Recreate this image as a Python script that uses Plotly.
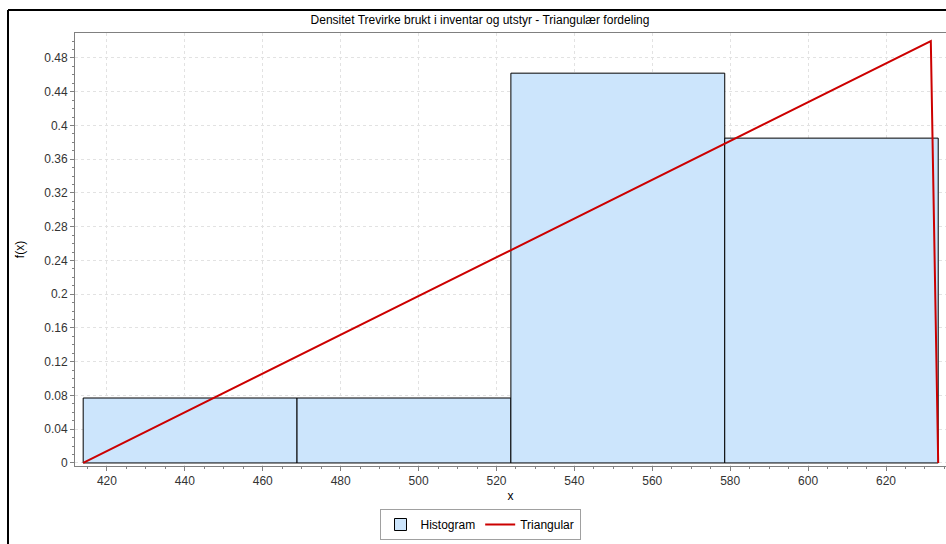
import plotly.graph_objects as go

# ---- data ----
bin_left = [413.9, 468.8, 523.7, 578.6]
bin_width = [54.9, 54.9, 54.9, 54.8]
rel_freq = [0.077, 0.077, 0.462, 0.385]

tri_x = [413.9, 631.5, 633.4]
tri_y = [0.0, 0.50, 0.0]

y_ticks = [0, 0.04, 0.08, 0.12, 0.16, 0.2, 0.24, 0.28, 0.32, 0.36, 0.4, 0.44, 0.48]
y_tick_text = ["0", "0.04", "0.08", "0.12", "0.16", "0.2", "0.24", "0.28", "0.32", "0.36", "0.4", "0.44", "0.48"]
x_ticks = [420, 440, 460, 480, 500, 520, 540, 560, 580, 600, 620]
x_tick_text = [str(v) for v in x_ticks]

title_text = "Densitet Trevirke brukt i inventar og utstyr - Triangulær fordeling"

FONT = "Liberation Sans, Arial, sans-serif"
W, H = 946, 544
ML, MR, MT, MB = 75, 0, 33, 78
PW = W - ML - MR
PH = H - MT - MB


def px(xp):
    return (xp - ML) / PW


def py(yp):
    return (H - MB - yp) / PH


fig = go.Figure()
fig.add_trace(go.Bar(
    x=bin_left, y=rel_freq, width=bin_width, offset=0,
    name="Histogram",
    marker=dict(color="#CCE5FC", line=dict(color="#000000", width=1)),
))
fig.add_trace(go.Scatter(
    x=tri_x, y=tri_y, mode="lines", name="Triangular",
    line=dict(color="#CC0000", width=2),
))

axis_common = dict(
    showline=True, linecolor="#808080", linewidth=1,
    ticks="outside", ticklen=4, tickcolor="#808080",
    showgrid=True, gridcolor="#E2E2E2", griddash="3px,3px", gridwidth=1,
    zeroline=False,
    tickfont=dict(family=FONT, size=12, color="#333333"),
)

fig.update_layout(
    width=W, height=H,
    margin=dict(l=ML, r=MR, t=MT, b=MB, autoexpand=False),
    paper_bgcolor="white", plot_bgcolor="white",
    font=dict(family=FONT, size=12, color="#000000"),
    title=dict(text=title_text, xref="container", x=480 / W, xanchor="center",
               yref="container", y=1 - 20 / H, yanchor="middle",
               font=dict(family=FONT, size=12, color="#000000")),
    xaxis=dict(
        range=[411.8, 635.4], tickmode="array", tickvals=x_ticks, ticktext=x_tick_text,
        mirror=True,
        minor=dict(dtick=5, tick0=0, ticks="outside", ticklen=2, tickcolor="#808080", showgrid=False),
        title=dict(text="x", standoff=4, font=dict(family=FONT, size=12, color="#000000")),
        **axis_common,
    ),
    yaxis=dict(
        range=[-0.0036, 0.5096], tickmode="array", tickvals=y_ticks, ticktext=y_tick_text,
        minor=dict(dtick=0.01, tick0=0, ticks="outside", ticklen=2, tickcolor="#808080", showgrid=False),
        title=dict(text="f(x)", standoff=17, font=dict(family=FONT, size=12, color="#000000")),
        **axis_common,
    ),
    showlegend=True,
    legend=dict(
        orientation="h", x=px(480), xanchor="center", y=py(540), yanchor="bottom",
        bordercolor="#A0A0A0", borderwidth=1, bgcolor="white",
        font=dict(family=FONT, size=12, color="#000000"),
        itemwidth=30, tracegroupgap=0,
    ),
    shapes=[
        dict(type="line", xref="paper", yref="paper", x0=px(8), x1=px(960), y0=py(10), y1=py(10),
             line=dict(color="#000000", width=2)),
        dict(type="line", xref="paper", yref="paper", x0=px(8), x1=px(8), y0=py(10), y1=py(560),
             line=dict(color="#000000", width=2)),
    ],
)

fig.write_html("out.html")
